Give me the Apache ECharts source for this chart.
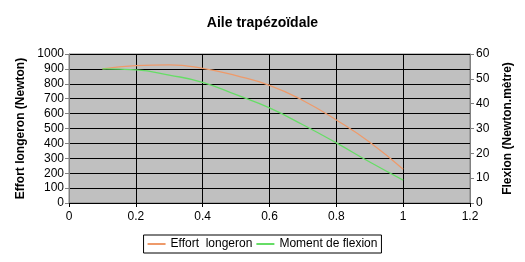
<!DOCTYPE html>
<html><head><meta charset="utf-8">
<script src="https://cdn.jsdelivr.net/npm/echarts@6/dist/echarts.min.js"></script>
<style>html,body{margin:0;padding:0;background:#fff}#c{width:525px;height:262px}</style>
</head><body><div id="c"></div>
<script>
const positions = [0.1, 0.2, 0.3, 0.4, 0.5, 0.6, 0.7, 0.8, 0.9, 1.0];
const effortLongeron = [900, 922, 927, 904, 855, 790, 688, 557, 408, 226];
const momentFlexion = [54, 53.6, 51.5, 48.6, 43.6, 38.3, 31.5, 24.2, 16.5, 9.2];
const seriesNames = ['Effort  longeron', 'Moment de flexion'];

const font = 'Liberation Sans, Arial, sans-serif';
const chart = echarts.init(document.getElementById('c'), null, {renderer: 'canvas'});
chart.setOption({
  animation: false,
  title: {text: 'Aile trapézoïdale', left: 'center', top: 11,
    textStyle: {fontFamily: font, fontSize: 14, fontWeight: 'bold', color: '#000'}},
  grid: {left: 69, right: 55, top: 54, bottom: 59, show: true,
    backgroundColor: '#c0c0c0', borderColor: '#808080', borderWidth: 1},
  legend: {bottom: 9, left: 'center', itemWidth: 18, itemHeight: 2, itemGap: 4,
    borderColor: '#000', borderWidth: 1, padding: [3, 4], borderRadius: 0,
    icon: 'rect',
    textStyle: {fontFamily: font, fontSize: 12, color: '#000'},
    data: seriesNames},
  xAxis: {type: 'value', min: 0, max: 1.2, interval: 0.2,
    axisLine: {show: false},
    axisTick: {show: true, inside: false, length: 4, lineStyle: {color: '#000'}},
    axisLabel: {fontFamily: font, fontSize: 12, color: '#000', margin: 8,
      formatter: v => String(+v.toFixed(1))},
    splitLine: {show: true, lineStyle: {color: '#000', width: 1}}},
  yAxis: [
    {type: 'value', min: 0, max: 1000, interval: 100, position: 'left',
      name: 'Effort longeron (Newton)', nameLocation: 'middle', nameGap: 42,
      nameTextStyle: {fontFamily: font, fontSize: 12, fontWeight: 'bold', color: '#000'},
      axisLine: {show: true, lineStyle: {color: '#808080'}},
      axisTick: {show: true, length: 4, lineStyle: {color: '#808080'}},
      axisLabel: {fontFamily: font, fontSize: 12, color: '#000', margin: 5,
        formatter: v => String(v)},
      splitLine: {show: true, lineStyle: {color: '#000', width: 1}}},
    {type: 'value', min: 0, max: 60, interval: 10, position: 'right',
      name: 'Flexion (Newton.mètre)', nameLocation: 'middle', nameGap: 32,
      nameRotate: 90,
      nameTextStyle: {fontFamily: font, fontSize: 12, fontWeight: 'bold', color: '#000'},
      axisLine: {show: true, lineStyle: {color: '#808080'}},
      axisTick: {show: true, length: 4, lineStyle: {color: '#808080'}},
      axisLabel: {fontFamily: font, fontSize: 12, color: '#000', margin: 6},
      splitLine: {show: false}}
  ],
  series: [
    {name: seriesNames[0], type: 'line', yAxisIndex: 0, smooth: true, showSymbol: false,
      color: '#ee9a6a', lineStyle: {width: 1.3, color: '#ee9a6a'},
      data: positions.map((x, i) => [x, effortLongeron[i]])},
    {name: seriesNames[1], type: 'line', yAxisIndex: 1, smooth: true, showSymbol: false,
      color: '#66dd66', lineStyle: {width: 1.3, color: '#66dd66'},
      data: positions.map((x, i) => [x, momentFlexion[i]])}
  ]
});
</script></body></html>
